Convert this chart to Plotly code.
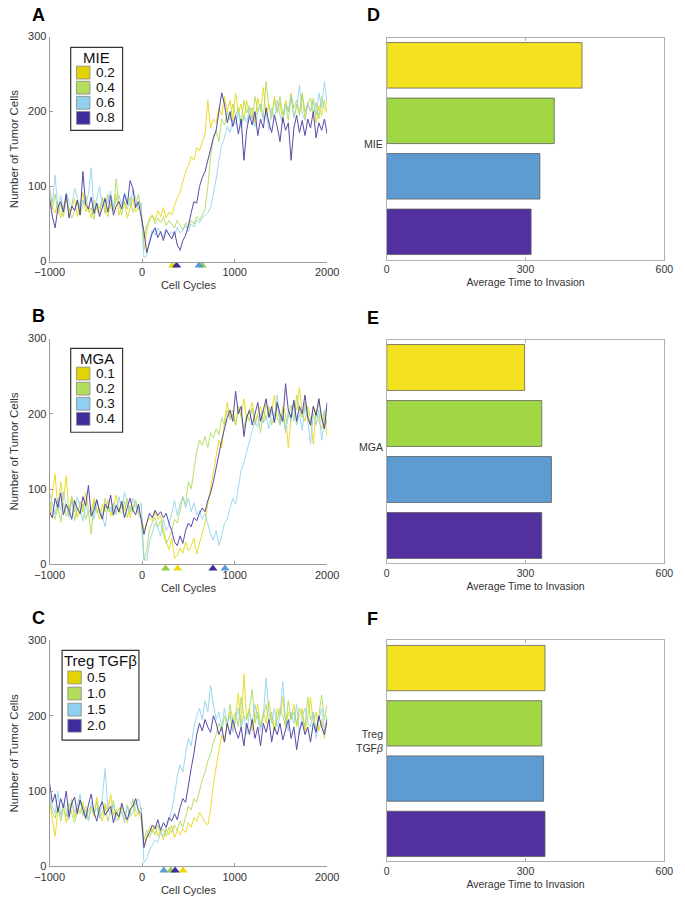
import plotly.graph_objects as go

# ---------------- data ----------------
x_cycles = list(range(-1000, 2001, 30))

mie_labels = ["0.2", "0.4", "0.6", "0.8"]
mga_labels = ["0.1", "0.2", "0.3", "0.4"]
treg_labels = ["0.5", "1.0", "1.5", "2.0"]

# Panel A (MIE) tumor cell counts, sampled every 30 cycles
a_y = [100,72,65,80,58,75,88,62,70,84, 60,78,92,66,74,58,82,70,64,86, 72,60,78,68,90,62,74,80,58,70, 84,66,72,62] + \
      [15,40,58,62,55,68,60,72,58,66, 62,75,85,92,108,120,128,140,135,152, 148,160,170,215,178,190,185,205,195,220,
       200,215,190,225,198,210,188,215,195,205, 185,218,200,232,195,210,190,220,198,212, 185,215,200,225,192,210,198,222,190,212,
       200,218,185,208,195,215,200]
a_g = [82,70,90,64,76,60,85,72,58,68, 80,62,74,88,66,72,56,78,70,84, 64,90,72,68,110,76,62,80,70,86, 66,74,90,68] + \
      [30,48,55,62,50,58,52,60,48,55, 50,45,55,48,42,52,45,55,50,60, 55,62,70,100,140,165,175,160,190,182,
       200,188,210,195,205,185,215,198,208,190, 220,200,210,192,240,205,195,215,200,220, 196,210,188,222,205,215,195,225,200,210,
       218,198,212,190,220,205,198]
a_b = [95,78,115,70,88,66,92,80,74,98, 85,70,82,76,90,125,68,84,100,72, 86,78,94,70,82,88,76,92,80,74, 96,84,70,78] + \
      [5,8,30,42,35,45,38,32,44,36, 40,34,46,38,42,48,40,50,46,55, 52,58,62,65,72,90,110,135,155,165,
       180,172,190,182,200,178,195,185,205,190, 180,200,210,188,198,175,205,190,215,195, 185,210,200,220,192,205,235,198,188,210,
       200,215,195,225,205,240,210]
a_p = [85,60,45,72,80,66,90,58,74,68, 82,62,120,76,70,86,64,78,60,72, 84,66,88,62,74,80,70,90,76,108, 98,72,80,60] + \
      [40,12,25,38,45,32,40,28,42,35, 30,40,22,15,28,35,48,65,80,78, 100,112,120,135,150,165,175,200,225,210,
       185,200,180,195,170,190,135,175,195,182, 200,168,190,178,205,185,172,195,180,160, 192,175,185,135,178,195,172,188,168,190,
       178,200,165,185,175,190,170]

# Panel B (MGA)
b_y = [60,95,120,72,110,85,118,66,90,78, 62,84,70,96,74,66,88,72,60,80, 70,86,64,76,92,68,80,72,88,62, 76,84,70,64] + \
      [45,55,62,58,70,60,65,48,30,20, 35,8,12,22,15,30,18,25,35,14, 28,40,55,80,100,120,140,165,155,190,
       215,195,205,185,210,198,220,192,205,215, 190,200,210,188,215,198,205,225,195,185, 210,200,155,195,215,205,235,200,190,210,
       195,160,205,190,180,200,170]
b_g = [85,70,60,78,56,82,64,72,90,58, 76,66,80,60,70,40,84,68,74,62, 88,70,76,64,80,72,68,84,62,78, 70,86,66,60] + \
      [5,20,48,55,62,50,58,40,28,35, 45,60,55,72,90,80,110,100,125,150, 165,158,170,155,175,168,180,172,195,185,
       205,192,200,185,210,195,180,200,190,208, 185,198,175,205,192,210,185,200,215,190, 205,180,198,212,190,225,205,195,215,200,
       185,210,195,220,190,205,185]
b_b = [95,80,66,88,72,96,78,62,84,70, 90,74,58,80,68,76,60,86,72,64, 50,78,70,82,66,90,74,96,80,70, 88,76,72,82] + \
      [8,5,30,42,55,48,38,60,45,52, 70,85,65,80,90,75,88,70,82,66, 72,60,68,55,40,32,45,25,38,55,
       60,75,88,80,100,125,135,150,165,178, 190,182,200,188,196,180,205,190,225,185, 198,175,205,190,215,185,200,178,210,192,
       160,200,185,205,165,190,215]
b_p = [70,62,88,76,95,66,80,72,60,85, 74,68,90,78,105,64,72,86,70,60, 80,74,92,66,78,70,84,62,76,88, 72,66,80,58] + \
      [40,55,68,62,72,65,70,62,68,55, 45,30,25,38,28,45,55,50,62,58, 68,75,70,85,95,110,130,150,165,180,
       195,205,190,230,200,210,170,195,205,185, 200,215,190,205,220,195,210,188,215,200, 190,240,205,195,218,190,210,200,225,195,
       185,210,198,220,195,180,215]

# Panel C (Treg TGFβ)
c_y = [85,60,40,75,68,82,58,72,90,64, 78,70,86,62,74,80,66,92,70,60, 84,72,96,68,76,62,80,70,58,74, 82,66,72,62] + \
      [28,40,52,45,55,40,48,35,50,42, 55,38,48,42,50,45,58,52,65,60, 72,66,58,55,75,110,130,150,175,165,
       190,205,180,200,230,185,255,195,210,180, 200,215,185,205,190,220,195,180,210,200, 225,188,205,195,215,185,200,210,180,198,
       225,190,205,180,195,170,200]
c_g = [88,72,64,80,60,76,66,84,70,58, 74,90,68,80,62,76,70,86,64,72, 80,60,74,88,66,78,70,62,82,68, 90,74,70,78] + \
      [35,48,38,50,42,55,45,50,40,52, 45,55,48,60,52,68,80,75,90,85, 100,115,125,140,150,165,175,190,180,200,
       185,215,195,205,185,225,200,195,210,235, 190,205,185,200,215,190,205,180,195,210, 200,185,220,195,205,190,210,200,185,225,
       195,205,180,200,228,195,215]
c_b = [95,80,70,100,66,84,76,62,88,72, 80,96,68,74,60,85,70,78,64,92, 130,76,70,82,60,68,74,58,80,66, 72,84,90,76] + \
      [5,10,22,28,35,32,45,40,52,60, 75,95,120,135,125,150,170,160,185,200, 210,195,220,205,240,215,195,205,185,210,
       190,200,178,195,210,185,200,175,205,190, 215,195,180,200,250,205,190,210,185,200, 245,195,180,205,190,215,175,200,210,190,
       185,205,170,195,210,180,200]
c_p = [110,85,96,72,90,78,100,66,84,92, 70,88,76,64,82,96,72,60,78,86, 68,74,80,58,72,66,84,70,62,76, 80,90,74,70] + \
      [25,38,45,55,50,62,48,58,52,65, 60,70,62,78,90,85,110,130,150,175, 190,180,195,185,178,200,190,175,185,165,
       190,175,195,180,170,185,160,190,175,195, 170,185,160,190,178,195,165,185,175,190, 168,180,195,170,185,155,180,192,175,185,
       165,190,178,200,185,175,195]

# invasion time markers (yellow, green, blue, purple)
inv_a = [329, 650, 616, 373]
inv_b = [384, 253, 896, 765]
inv_c = [443, 311, 235, 357]

# average time to invasion (yellow, green, blue, purple)
bar_d = [422, 362, 331, 312]
bar_e = [298, 335, 356, 335]
bar_f = [342, 335, 339, 342]

for s in [a_y, a_g, a_b, a_p, b_y, b_g, b_b, b_p, c_y, c_g, c_b, c_p]:
    assert len(s) == len(x_cycles), len(s)

# ---------------- style ----------------
line_colors = ["#E8D600", "#A9DA52", "#8FD0F0", "#3E2A9A"]
swatch_colors = ["#E3D300", "#B3DD5C", "#8FD0F0", "#3E2C9C"]
tri_colors = ["#EFD900", "#96CF45", "#5A9BD6", "#3F2A9A"]
bar_colors = ["#F4E220", "#A1D644", "#5D9BD1", "#52309E"]

W, H = 685, 903
FONT = "Liberation Sans, Arial, Helvetica, sans-serif"


def fx(p):
    return p / W


def fy(p):
    return 1 - p / H


fig = go.Figure()
layout = dict(
    width=W, height=H, margin=dict(l=0, r=0, t=0, b=0),
    paper_bgcolor="white", plot_bgcolor="white", showlegend=False,
    font=dict(family=FONT, color="#333", size=11), bargap=0.18,
)
shapes = []
annotations = []

left_panels = [
    dict(sx="", series=[a_y, a_g, a_b, a_p], inv=inv_a, top=31, bottom=259, title="MIE",
         labels=mie_labels, box=(58, 42, 112, 126), row0=19, step=15.3, letter="A", ly=9),
    dict(sx="3", series=[b_y, b_g, b_b, b_p], inv=inv_b, top=337, bottom=566, title="MGA",
         labels=mga_labels, box=(58, 347, 112, 432), row0=19, step=15.3, letter="B", ly=314),
    dict(sx="5", series=[c_y, c_g, c_b, c_p], inv=inv_c, top=643, bottom=872, title="Treg TGFβ",
         labels=treg_labels, box=(49, 653, 129, 744), row0=21, step=16.3, letter="C", ly=620),
]

for p in left_panels:
    xa = "x" + p["sx"]
    ya = "y" + p["sx"]
    for vals, col in zip(p["series"], line_colors):
        fig.add_trace(go.Scatter(x=x_cycles, y=vals, mode="lines", xaxis=xa, yaxis=ya,
                                 line=dict(color=col, width=1), opacity=0.85, hoverinfo="skip"))
    for t, col in zip(p["inv"], tri_colors):
        fig.add_trace(go.Scatter(x=[t], y=[0], mode="markers", xaxis=xa, yaxis=ya, cliponaxis=False,
                                 marker=dict(symbol="triangle-up", size=8, color=col, angle=0, standoff=4)))
    layout["xaxis" + p["sx"]] = dict(
        domain=[fx(36), fx(325)], anchor=ya, range=[-1000, 2000], tickvals=[-1000, 0, 1000, 2000],
        showline=True, linecolor="#9a9a9a", linewidth=1, ticks="inside", ticklen=3, tickcolor="#9a9a9a",
        showgrid=False, zeroline=False, tickfont=dict(size=11, color="#333"),
        title=dict(text="Cell Cycles", font=dict(size=11, color="#333"), standoff=4))
    layout["yaxis" + p["sx"]] = dict(
        domain=[fy(p["bottom"]), fy(p["top"])], anchor=xa, range=[0, 300], tickvals=[0, 100, 200, 300],
        showline=True, linecolor="#9a9a9a", linewidth=1, ticks="inside", ticklen=3, tickcolor="#9a9a9a",
        showgrid=False, zeroline=False, tickfont=dict(size=11, color="#333"),
        title=dict(text="Number of Tumor Cells", font=dict(size=11.5, color="#333"), standoff=6))
    # legend box
    l, t, r, b = p["box"]
    shapes.append(dict(type="rect", xref="paper", yref="paper", x0=fx(l), x1=fx(r), y0=fy(b), y1=fy(t),
                       line=dict(color="#333", width=1.2), fillcolor="white", layer="above"))
    annotations.append(dict(xref="paper", yref="paper", x=fx((l + r) / 2), y=fy(t + 10.5), text=p["title"],
                            showarrow=False, xanchor="center", yanchor="middle",
                            font=dict(size=15, color="#111", family=FONT)))
    for k, (lab, col) in enumerate(zip(p["labels"], swatch_colors)):
        y0 = t + p["row0"] + k * p["step"]
        shapes.append(dict(type="rect", xref="paper", yref="paper", x0=fx(l + 6), x1=fx(l + 20),
                           y0=fy(y0 + 13), y1=fy(y0), line=dict(color="#888", width=0.8),
                           fillcolor=col, layer="above"))
        annotations.append(dict(xref="paper", yref="paper", x=fx(l + 24), y=fy(y0 + 6.5), text=lab,
                                showarrow=False, xanchor="left", yanchor="middle",
                                font=dict(size=13.5, color="#111", family=FONT)))
    annotations.append(dict(xref="paper", yref="paper", x=fx(16), y=fy(p["ly"]), text="<b>%s</b>" % p["letter"],
                            showarrow=False, xanchor="left", yanchor="middle",
                            font=dict(size=18, color="#000", family=FONT)))

right_panels = [
    dict(sx="2", vals=bar_d, cats=mie_labels, top=32, bottom=257, label="MIE", ly_lab=140, letter="D", ly=9),
    dict(sx="4", vals=bar_e, cats=mga_labels, top=338, bottom=565, label="MGA", ly_lab=447, letter="E", ly=316),
    dict(sx="6", vals=bar_f, cats=treg_labels, top=643, bottom=867, label="Treg<br>TGF<i>β</i>", ly_lab=745,
         letter="F", ly=621),
]

for p in right_panels:
    xa = "x" + p["sx"]
    ya = "y" + p["sx"]
    fig.add_trace(go.Bar(x=p["vals"], y=p["cats"], orientation="h", xaxis=xa, yaxis=ya,
                         marker=dict(color=bar_colors, line=dict(color="rgba(90,90,90,0.75)", width=1))))
    layout["xaxis" + p["sx"]] = dict(
        domain=[fx(387), fx(676)], anchor=ya, range=[0, 600], tickvals=[0, 300, 600],
        showline=True, mirror="ticks", linecolor="#b0b0b0", linewidth=1, ticks="inside", ticklen=3,
        tickcolor="#b0b0b0", showgrid=False, zeroline=False, tickfont=dict(size=10.5, color="#333"),
        title=dict(text="Average Time to Invasion", font=dict(size=10.5, color="#333"), standoff=4))
    layout["yaxis" + p["sx"]] = dict(
        domain=[fy(p["bottom"]), fy(p["top"])], anchor=xa, type="category", autorange="reversed",
        showline=True, mirror=True, linecolor="#b0b0b0", linewidth=1, ticks="", showticklabels=False,
        showgrid=False, zeroline=False)
    annotations.append(dict(xref="paper", yref="paper", x=fx(385), y=fy(p["ly_lab"]), text=p["label"],
                            showarrow=False, xanchor="right", yanchor="middle", align="right",
                            font=dict(size=10.5, color="#333", family=FONT)))
    annotations.append(dict(xref="paper", yref="paper", x=fx(364), y=fy(p["ly"]), text="<b>%s</b>" % p["letter"],
                            showarrow=False, xanchor="left", yanchor="middle",
                            font=dict(size=18, color="#000", family=FONT)))

layout["shapes"] = shapes
layout["annotations"] = annotations
fig.update_layout(**layout)
fig.write_html("out.html")
